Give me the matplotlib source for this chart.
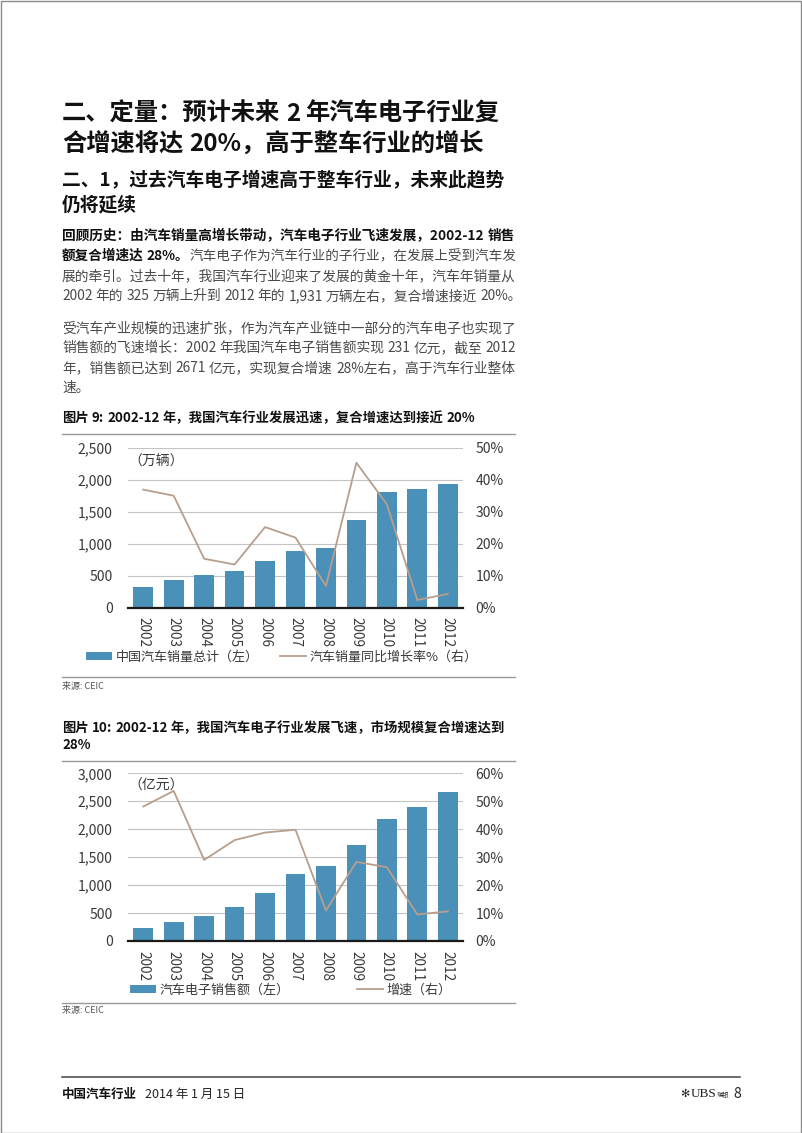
import numpy as np
import matplotlib
matplotlib.use('Agg')
import matplotlib.pyplot as plt
from matplotlib.font_manager import FontProperties
from matplotlib.ticker import FuncFormatter
from matplotlib.patches import Patch, Rectangle
from matplotlib.lines import Line2D

# ==============================================================================
# Data
# ==============================================================================
years = ['2002', '2003', '2004', '2005', '2006', '2007', '2008', '2009', '2010', '2011', '2012']

# Figure 9: China auto sales (10k units) and YoY growth (%)
auto_sales = [325, 439, 507, 576, 722, 879, 938, 1364, 1806, 1851, 1931]
auto_yoy = [36.9, 35.0, 15.3, 13.5, 25.2, 21.9, 6.8, 45.3, 32.3, 2.4, 4.3]

# Figure 10: auto electronics sales (100m RMB) and growth (%)
elec_sales = [231, 340, 441, 608, 853, 1205, 1336, 1724, 2183, 2392, 2671]
elec_yoy = [48.1, 53.7, 29.0, 36.1, 38.8, 39.8, 10.9, 28.3, 26.4, 9.5, 10.6]

# ==============================================================================
# Page setup
# ==============================================================================
W, H = 802, 1133
FAM = ['Noto Sans CJK SC', 'DejaVu Sans']
plt.rcParams['font.family'] = FAM

BAR = '#4A90B8'
LINE = '#B89E8C'
GRID = '#C4C4C4'
TXT = '#3a3a3a'
BODY = '#4a4a4a'
RULE = '#9a9a9a'

fig = plt.figure(figsize=(W / 100, H / 100), dpi=100)
renderer = fig.canvas.get_renderer()


def fx(x):
    return x / W


def fy(y):
    return 1 - y / H


def text_w(s, size, weight):
    prop = FontProperties(family=FAM, size=size, weight=weight)
    return renderer.get_text_width_height_descent(s, prop, ismath=False)[0]


def put_line(y, segs, size=9.9, justify=False, x0=62, x1=515):
    # segs: list of (text, weight, color); extra width goes into the spaces
    words = []
    for t, w, c in segs:
        for i, p in enumerate(t.split(' ')):
            words.append((p, w, c, i > 0))
    n_gaps = sum(1 for wd in words if wd[3])

    def measure(sz):
        ws = [text_w(p, sz, w) for p, w, c, g in words]
        sp = text_w('a a', sz, 'normal') - text_w('aa', sz, 'normal')
        return ws, sp

    widths, space = measure(size)
    if justify and n_gaps:
        natural = sum(widths) + n_gaps * space
        if natural > x1 - x0:
            # shrink slightly so the line still fits the column
            size = size * (x1 - x0) / natural
            widths, space = measure(size)
        space = max(space, (x1 - x0 - sum(widths)) / n_gaps)
    x = x0
    for (p, w, c, g), wd in zip(words, widths):
        if g:
            x += space
        fig.text(fx(x), fy(y), p, fontsize=size, fontweight=w, color=c,
                 va='center', ha='left')
        x += wd


def hrule(y, x0=62, x1=515, color=RULE, lw=1.0):
    fig.add_artist(Line2D([fx(x0), fx(x1)], [fy(y), fy(y)], color=color, lw=lw,
                          transform=fig.transFigure))


# ==============================================================================
# Headings and body text
# ==============================================================================
put_line(114, [('二、定量：预计未来 2 年汽车电子行业复', 'bold', '#111111')], size=17.5)
put_line(145, [('合增速将达 20%，高于整车行业的增长', 'bold', '#111111')], size=17.5)
put_line(181, [('二、1，过去汽车电子增速高于整车行业，未来此趋势', 'bold', '#111111')], size=13.5)
put_line(205, [('仍将延续', 'bold', '#111111')], size=13.5)

put_line(236, [('回顾历史：由汽车销量高增长带动，汽车电子行业飞速发展，2002-12 销售', 'bold', '#111111')],
         justify=True)
put_line(256, [('额复合增速达 28%。', 'bold', '#111111'),
               ('汽车电子作为汽车行业的子行业，在发展上受到汽车发', 'normal', BODY)], justify=True)
put_line(276, [('展的牵引。过去十年，我国汽车行业迎来了发展的黄金十年，汽车年销量从', 'normal', BODY)])
put_line(296, [('2002 年的 325 万辆上升到 2012 年的 1,931 万辆左右，复合增速接近 20%。', 'normal', BODY)])

put_line(328, [('受汽车产业规模的迅速扩张，作为汽车产业链中一部分的汽车电子也实现了', 'normal', BODY)])
put_line(348, [('销售额的飞速增长：2002 年我国汽车电子销售额实现 231 亿元，截至 2012', 'normal', BODY)],
         justify=True)
put_line(368, [('年，销售额已达到 2671 亿元，实现复合增速 28%左右，高于汽车行业整体', 'normal', BODY)],
         justify=True)
put_line(388, [('速。', 'normal', BODY)])


# ==============================================================================
# Chart helper
# ==============================================================================
def make_chart(top, bottom, vals, yoy, ymax, ystep, rmax, unit, unit_y,
               lab_bar, lab_line, leg_y, bar_x, line_x):
    left, right = 128, 463
    ax = fig.add_axes([fx(left), fy(bottom), (right - left) / W, (bottom - top) / H])
    x = np.arange(len(years))
    ax.bar(x, vals, width=0.65, color=BAR, zorder=2)
    ax.set_xlim(-0.5, len(years) - 0.5)
    ax.set_ylim(0, ymax)
    ax.set_yticks(np.arange(0, ymax + 1, ystep))
    ax.yaxis.set_major_formatter(FuncFormatter(lambda v, p: f'{v:,.0f}'))
    ax.grid(axis='y', color=GRID, lw=0.8)
    ax.set_axisbelow(True)
    for s in ['left', 'right', 'top']:
        ax.spines[s].set_visible(False)
    ax.spines['bottom'].set_color('#1a1a1a')
    ax.spines['bottom'].set_linewidth(1.6)
    ax.tick_params(axis='y', length=0, pad=11, labelsize=10, labelcolor=TXT)
    ax.tick_params(axis='x', length=0, pad=7, labelsize=9.8, labelcolor=TXT)
    ax.set_xticks(x)
    ax.set_xticklabels(years, rotation=-90, va='top', ha='center')

    ax2 = ax.twinx()
    ax2.plot(x, yoy, color=LINE, lw=1.3)
    ax2.set_ylim(0, rmax)
    ax2.set_yticks(np.arange(0, rmax + 1, 10))
    ax2.yaxis.set_major_formatter(FuncFormatter(lambda v, p: f'{v:.0f}%'))
    for s in ax2.spines.values():
        s.set_visible(False)
    ax2.tick_params(axis='y', length=0, pad=9, labelsize=10, labelcolor=TXT)

    fig.text(fx(128), fy(unit_y), unit, fontsize=10, color=TXT, va='center', ha='left')

    # legend entries placed separately (as in the source layout)
    fig.legend(handles=[Patch(facecolor=BAR, edgecolor='none', label=lab_bar)],
               loc='center left', bbox_to_anchor=(fx(bar_x), fy(leg_y)), frameon=False,
               fontsize=9.4, labelcolor=TXT, handlelength=2.0, handleheight=0.55,
               handletextpad=0.25, borderpad=0, borderaxespad=0)
    fig.legend(handles=[Line2D([], [], color=LINE, lw=1.3, label=lab_line)],
               loc='center left', bbox_to_anchor=(fx(line_x), fy(leg_y)), frameon=False,
               fontsize=9.4, labelcolor=TXT, handlelength=2.0,
               handletextpad=0.25, borderpad=0, borderaxespad=0)
    return ax


# ==============================================================================
# Figure 9
# ==============================================================================
put_line(418, [('图片 9: 2002-12 年，我国汽车行业发展迅速，复合增速达到接近 20%', 'bold', '#111111')],
         size=9.6)
hrule(434)
make_chart(447.7, 607.7, auto_sales, auto_yoy, 2500, 500, 50, '（万辆）', 462,
           '中国汽车销量总计（左）', '汽车销量同比增长率%（右）', 657, 86, 280)
hrule(677)
fig.text(fx(62), fy(686), '来源: CEIC', fontsize=6.5, color='#555555', va='center', ha='left')

# ==============================================================================
# Figure 10
# ==============================================================================
put_line(728, [('图片 10: 2002-12 年，我国汽车电子行业发展飞速，市场规模复合增速达到', 'bold', '#111111')],
         size=9.6)
put_line(745, [('28%', 'bold', '#111111')], size=9.6)
hrule(761)
make_chart(773.3, 941, elec_sales, elec_yoy, 3000, 500, 60, '（亿元）', 786,
           '汽车电子销售额（左）', '增速（右）', 990, 130, 357)
hrule(1003)
fig.text(fx(62), fy(1011), '来源: CEIC', fontsize=6.5, color='#555555', va='center', ha='left')

# ==============================================================================
# Footer and page frame
# ==============================================================================
hrule(1077, 62, 740, color='#444444', lw=1.1)
fig.text(fx(62), fy(1094), '中国汽车行业', fontsize=9, fontweight='bold', color='#111111',
         va='center', ha='left')
fig.text(fx(145), fy(1094), '2014 年 1 月 15 日', fontsize=9, color='#222222',
         va='center', ha='left')
fig.text(fx(680), fy(1094), '✻', fontsize=8, color='#222222', va='center', ha='left',
         family=['DejaVu Sans'])
fig.text(fx(691), fy(1094), 'UBS', fontsize=9.5, color='#222222', va='center', ha='left',
         family=['Liberation Serif'])
fig.text(fx(717), fy(1095), '瑞银', fontsize=4.5, color='#222222', va='center', ha='left')
fig.text(fx(741), fy(1094), '8', fontsize=10, color='#222222', va='center', ha='right')

fig.patches.append(Rectangle((0.5 / W, 0.5 / H), 1 - 1.5 / W, 1 - 1.5 / H, fill=False,
                             edgecolor='#8a8a8a', lw=1.0, transform=fig.transFigure))

fig.savefig('out.png', dpi=100)
